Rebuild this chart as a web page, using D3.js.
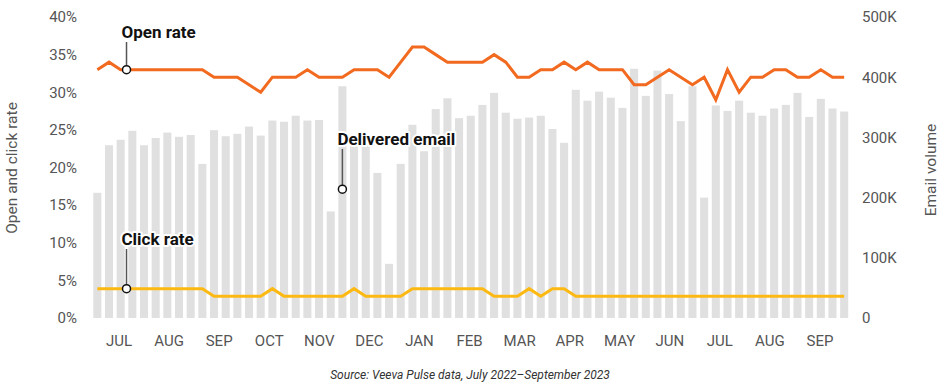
<!DOCTYPE html>
<html lang="en">
  <head>
    <meta charset="UTF-8" />
    <title>Email open and click rate</title>
    <style>
      body {
        margin: 0;
        background: #fff;
      }
      svg {
        font-family: Roboto, "Noto Sans", sans-serif;
      }
      .tick text {
        font-size: 15px;
        fill: #555;
      }
      .note {
        font-size: 17px;
        font-weight: 700;
        fill: #111;
        paint-order: stroke;
        stroke: #fff;
        stroke-width: 4px;
        stroke-linejoin: round;
      }
    </style>
  </head>
  <body>
    <svg></svg>
    <script src="https://cdnjs.cloudflare.com/ajax/libs/d3/7.8.5/d3.min.js"></script>
    <script>
      // weekly data, July 2022 - September 2023
      const weeks = d3.timeWeek.range(new Date(2022, 6, 3), new Date(2023, 8, 25));

      const months = ["JUL", "AUG", "SEP", "OCT", "NOV", "DEC", "JAN", "FEB",
        "MAR", "APR", "MAY", "JUN", "JUL ", "AUG ", "SEP "];

      // delivered emails per week (thousands)
      const delivered = [
        208, 287, 296, 311, 287, 299, 308, 301, 304, 256, 312, 302, 306, 318, 303, 328,
        326, 336, 328, 329, 177, 385, 290, 287, 241, 90, 256, 321, 277, 347, 365, 332,
        336, 354, 374, 341, 331, 333, 336, 314, 291, 379, 361, 376, 366, 349, 414, 369,
        411, 372, 327, 385, 200, 353, 344, 361, 341, 336, 348, 354, 374, 334, 364, 348, 343
      ];

      // open rate (%)
      const openRate = [
        33, 34, 33, 33, 33, 33, 33, 33, 33, 33, 32, 32, 32, 31, 30, 32,
        32, 32, 33, 32, 32, 32, 33, 33, 33, 32, 34, 36, 36, 35, 34, 34,
        34, 34, 35, 34, 32, 32, 33, 33, 34, 33, 34, 33, 33, 33, 31, 31,
        32, 33, 32, 31, 32, 29, 33, 30, 32, 32, 33, 33, 32, 32, 33, 32, 32
      ];

      // click rate (%)
      const clickRate = [
        3.9, 3.9, 3.9, 3.9, 3.9, 3.9, 3.9, 3.9, 3.9, 3.9, 2.9, 2.9, 2.9, 2.9, 2.9, 3.9,
        2.9, 2.9, 2.9, 2.9, 2.9, 2.9, 3.9, 2.9, 2.9, 2.9, 2.9, 3.9, 3.9, 3.9, 3.9, 3.9,
        3.9, 3.9, 2.9, 2.9, 2.9, 3.9, 2.9, 3.9, 3.9, 2.9, 2.9, 2.9, 2.9, 2.9, 2.9, 2.9,
        2.9, 2.9, 2.9, 2.9, 2.9, 2.9, 2.9, 2.9, 2.9, 2.9, 2.9, 2.9, 2.9, 2.9, 2.9, 2.9, 2.9
      ];

      const rateTicks = [0, 5, 10, 15, 20, 25, 30, 35, 40];
      const volumeTicks = [0, 100, 200, 300, 400, 500];

      const width = 941;
      const height = 391;
      const plotTop = 17;
      const plotBottom = 318;

      const svg = d3.select("svg").attr("width", width).attr("height", height);

      const x = d3.scaleBand().domain(weeks).range([91.5, 850]).paddingInner(0.31).paddingOuter(0.155);
      const xMonth = d3.scaleBand().domain(months).range([94, 845]);
      const yRate = d3.scaleLinear().domain([0, 40]).range([plotBottom, plotTop]);
      const yVol = d3.scaleLinear().domain([0, 500]).range([plotBottom, plotTop]);

      const cx = (i) => x(weeks[i]) + x.bandwidth() / 2;
      // fractional index -> pixel, for annotation anchors between weeks
      const fx = (f) => cx(Math.floor(f)) + (f - Math.floor(f)) * x.step();

      // bars
      svg.append("g")
        .selectAll("rect")
        .data(delivered)
        .join("rect")
        .attr("x", (d, i) => x(weeks[i]))
        .attr("width", x.bandwidth())
        .attr("y", (d) => yVol(d))
        .attr("height", (d) => yVol(0) - yVol(d))
        .attr("fill", "#e0e0e0");

      // axes
      const xAxis = svg.append("g")
        .attr("transform", "translate(0," + plotBottom + ")")
        .call(d3.axisBottom(xMonth).tickSize(0).tickPadding(17).tickFormat((d) => d.trim()));
      xAxis.select(".domain").remove();
      xAxis.attr("font-size", null).attr("font-family", null);

      const yAxisL = svg.append("g")
        .attr("transform", "translate(77,0)")
        .call(d3.axisLeft(yRate).tickValues(rateTicks).tickSize(0).tickPadding(0).tickFormat((d) => d + "%"));
      yAxisL.select(".domain").remove();
      yAxisL.attr("font-size", null).attr("font-family", null);

      const yAxisR = svg.append("g")
        .attr("transform", "translate(862,0)")
        .call(d3.axisRight(yVol).tickValues(volumeTicks).tickSize(0).tickPadding(0).tickFormat((d) => (d ? d + "K" : "0")));
      yAxisR.select(".domain").remove();
      yAxisR.attr("font-size", null).attr("font-family", null);

      svg.append("text")
        .attr("transform", "translate(17,168) rotate(-90)")
        .attr("text-anchor", "middle")
        .attr("font-size", 15.5)
        .attr("fill", "#555")
        .text("Open and click rate");

      svg.append("text")
        .attr("transform", "translate(936,170) rotate(-90)")
        .attr("text-anchor", "middle")
        .attr("font-size", 15.5)
        .attr("fill", "#555")
        .text("Email volume");

      // lines
      const lineGen = d3.line().x((d, i) => cx(i)).y((d) => yRate(d));
      svg.append("path")
        .attr("d", lineGen(openRate))
        .attr("fill", "none")
        .attr("stroke", "#f26a1f")
        .attr("stroke-width", 3);

      svg.append("path")
        .attr("d", lineGen(clickRate))
        .attr("fill", "none")
        .attr("stroke", "#fdb913")
        .attr("stroke-width", 3);

      // annotations
      const notes = [
        { label: "Open rate", at: 2.5, y: yRate(33), ty: 32 },
        { label: "Click rate", at: 2.5, y: yRate(3.9), ty: 239 },
        { label: "Delivered email", at: 21, y: yVol(214), ty: 139 }
      ];

      const g = svg.append("g");
      notes.forEach((n) => {
        const px = fx(n.at);
        g.append("line")
          .attr("x1", px).attr("x2", px)
          .attr("y1", n.ty + 10).attr("y2", n.y)
          .attr("stroke", "#555")
          .attr("stroke-width", 1.5);
        g.append("circle")
          .attr("cx", px).attr("cy", n.y).attr("r", 4)
          .attr("fill", "#fff")
          .attr("stroke", "#111")
          .attr("stroke-width", 1.5);
        g.append("text")
          .attr("class", "note")
          .attr("x", px - 5)
          .attr("y", n.ty)
          .attr("dy", "0.35em")
          .text(n.label);
      });

      svg.append("text")
        .attr("x", 470)
        .attr("y", 375)
        .attr("dy", "0.35em")
        .attr("text-anchor", "middle")
        .attr("font-size", 12)
        .attr("font-style", "italic")
        .attr("fill", "#333")
        .text("Source: Veeva Pulse data, July 2022\u2013September 2023");
    </script>
  </body>
</html>
